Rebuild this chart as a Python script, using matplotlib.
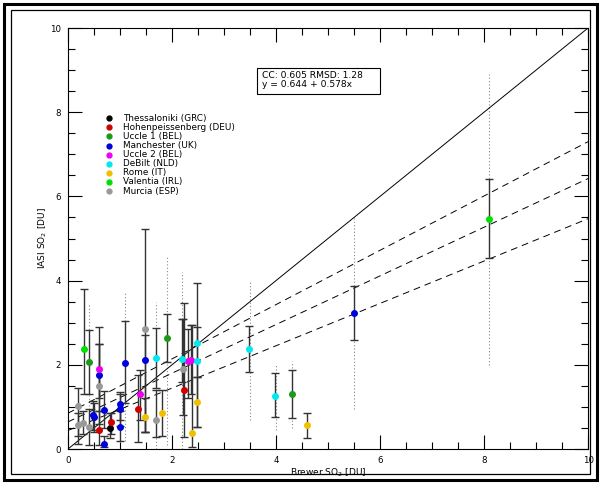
import matplotlib.pyplot as plt
from matplotlib.patches import Rectangle
from matplotlib.ticker import MultipleLocator

# stations: name, colour, points (x, y, err low, err high)
names = ['Thessaloniki (GRC)', 'Hohenpeissenberg (DEU)', 'Uccle 1 (BEL)',
         'Manchester (UK)', 'Uccle 2 (BEL)', 'DeBilt (NLD)', 'Rome (IT)',
         'Valentia (IRL)', 'Murcia (ESP)']
colors = ['#000000', '#d00000', '#1a9a1a', '#0000dd', '#ee00ee',
          '#00e8f0', '#f0c000', '#00e000', '#999999']

thess_x = [0.80]
thess_y = [0.49]
thess_lo = [0.25]
thess_hi = [0.85]

hohen_x = [0.60, 0.82, 1.34, 2.24]
hohen_y = [0.45, 0.65, 0.94, 1.41]
hohen_lo = [0.10, 0.35, 0.17, 0.28]
hohen_hi = [0.90, 0.85, 1.75, 3.48]

uccle1_x = [0.40, 1.90, 4.30]
uccle1_y = [2.07, 2.63, 1.31]
uccle1_lo = [1.30, 2.07, 0.74]
uccle1_hi = [2.82, 3.20, 1.87]

manch_x = [0.49, 0.50, 0.59, 0.69, 0.69, 1.00, 1.00, 1.00, 1.10, 1.49, 5.50]
manch_y = [0.81, 0.75, 1.75, 0.93, 0.13, 1.08, 0.94, 0.53, 2.05, 2.11, 3.24]
manch_lo = [0.45, 0.40, 1.20, 0.50, 0.05, 0.70, 0.55, 0.18, 1.10, 0.40, 2.58]
manch_hi = [1.15, 1.10, 2.50, 1.38, 0.30, 1.35, 1.30, 0.90, 3.04, 2.70, 3.87]

uccle2_x = [0.59, 1.39, 2.30, 2.37]
uccle2_y = [1.91, 1.30, 2.09, 2.11]
uccle2_lo = [0.90, 0.70, 1.20, 1.30]
uccle2_hi = [2.90, 1.87, 2.85, 2.95]

debilt_x = [1.69, 2.19, 2.49, 2.49, 3.49, 3.99]
debilt_y = [2.16, 2.13, 2.51, 2.09, 2.37, 1.27]
debilt_lo = [1.44, 1.60, 1.70, 0.53, 1.83, 0.75]
debilt_hi = [2.87, 3.10, 3.95, 2.90, 2.92, 1.80]

rome_x = [1.49, 1.80, 2.39, 2.49, 4.60]
rome_y = [0.75, 0.86, 0.37, 1.12, 0.57]
rome_lo = [0.40, 0.31, 0.05, 0.53, 0.25]
rome_hi = [1.20, 1.40, 2.95, 1.70, 0.86]

valen_x = [0.30, 8.10]
valen_y = [2.37, 5.47]
valen_lo = [1.30, 4.54]
valen_hi = [3.79, 6.42]

murcia_x = [0.19, 0.20, 0.29, 0.40, 0.59, 1.49, 1.69, 2.21]
murcia_y = [1.03, 0.57, 0.62, 0.53, 1.50, 2.84, 0.69, 1.90]
murcia_lo = [0.13, 0.30, 0.35, 0.10, 0.60, 0.40, 0.29, 0.80]
murcia_hi = [1.44, 0.85, 0.90, 0.95, 2.50, 5.23, 1.40, 3.10]

# dotted min-max ranges
range_x = [0.4, 1.1, 1.7, 1.9, 2.2, 3.5, 4.0, 4.3, 5.5, 8.1]
range_lo = [0.3, 0.2, 0.0, 0.1, 0.0, 0.7, 0.45, 0.5, 0.95, 2.0]
range_hi = [3.45, 3.7, 3.5, 4.6, 4.2, 4.0, 2.0, 2.1, 5.5, 8.9]

# regression line and its bounds: intercept, slope
fit_a = [0.85, 0.644, 0.44]
fit_b = [0.645, 0.578, 0.503]

stations = [
    (thess_x, thess_y, thess_lo, thess_hi),
    (hohen_x, hohen_y, hohen_lo, hohen_hi),
    (uccle1_x, uccle1_y, uccle1_lo, uccle1_hi),
    (manch_x, manch_y, manch_lo, manch_hi),
    (uccle2_x, uccle2_y, uccle2_lo, uccle2_hi),
    (debilt_x, debilt_y, debilt_lo, debilt_hi),
    (rome_x, rome_y, rome_lo, rome_hi),
    (valen_x, valen_y, valen_lo, valen_hi),
    (murcia_x, murcia_y, murcia_lo, murcia_hi),
]

plt.rcParams['font.family'] = ['DejaVu Sans']
fig = plt.figure(figsize=(6.01, 4.84), dpi=100)
ax = fig.add_axes([0.1131, 0.0723, 0.8653, 0.8698])

ax.vlines(range_x, range_lo, range_hi, colors='#888888', linestyles=(0, (1, 2)), linewidth=0.8)

ax.plot([0, 10], [0, 10], color='k', linewidth=0.7)
for a, b in zip(fit_a, fit_b):
    ax.plot([0, 10], [a, a + 10 * b], color='k', linewidth=0.7, linestyle=(0, (7, 5)))

for (x, y, lo, hi), c in zip(stations, colors):
    err = [[yy - l for yy, l in zip(y, lo)], [h - yy for yy, h in zip(y, hi)]]
    ax.errorbar(x, y, yerr=err, fmt='none', ecolor='#333333', elinewidth=1.0,
                capsize=3, capthick=1.0)
    ax.plot(x, y, 'o', color=c, markersize=4, zorder=5)

ax.set_xlim(0, 10)
ax.set_ylim(0, 10)
for axis in [ax.xaxis, ax.yaxis]:
    axis.set_major_locator(MultipleLocator(2))
    axis.set_minor_locator(MultipleLocator(0.5))
ax.tick_params(which='both', direction='in', top=True, right=True, labelsize=6.2, pad=5)
ax.tick_params(which='major', length=10, width=0.8)
ax.tick_params(which='minor', length=5, width=0.8)
for s in ax.spines.values():
    s.set_linewidth(0.8)

ax.set_xlabel('Brewer SO$_2$ [DU]', fontsize=6.5, labelpad=1)
ax.set_ylabel('IASI SO$_2$ [DU]', fontsize=6.5, labelpad=1)

# stats box
ax.add_patch(Rectangle((3.635, 8.43), 2.365, 0.62, facecolor='white', edgecolor='k',
                       linewidth=0.8, zorder=6))
ax.text(3.74, 8.76, 'CC: 0.605 RMSD: 1.28\ny = 0.644 + 0.578x', fontsize=6.6,
        va='center', ha='left', linespacing=1.0, zorder=7)

# legend
for i, (n, c) in enumerate(zip(names, colors)):
    yy = (449 - (118.3 + 9.09 * i)) / 421
    ax.plot(0.079, yy, 'o', color=c, markersize=3.5, transform=ax.transAxes)
    ax.text(0.106, yy, n, fontsize=6.4, va='center', ha='left', transform=ax.transAxes)

fig.add_artist(Rectangle((0.0067, 0.0083), 0.9866, 0.9834, transform=fig.transFigure,
                         fill=False, edgecolor='k', linewidth=2.2))
fig.add_artist(Rectangle((0.0175, 0.0207), 0.965, 0.9586, transform=fig.transFigure,
                         fill=False, edgecolor='k', linewidth=0.9))

fig.savefig('out.png', dpi=100)
